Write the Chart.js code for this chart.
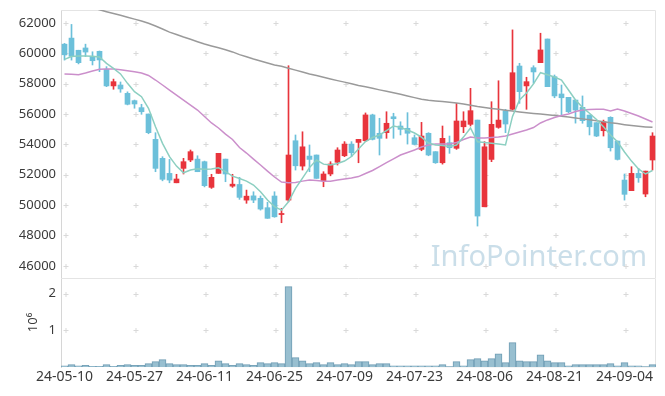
<!DOCTYPE html>
<html><head><meta charset="utf-8">
<script src="https://cdn.jsdelivr.net/npm/chart.js@4/dist/chart.umd.min.js"></script>
<style>
html,body{margin:0;padding:0;background:#fff;}
#wrap{position:relative;width:665px;height:396px;}
canvas{position:absolute;left:0;}
#c1{top:0;}
#c2{top:278px;}
</style></head>
<body>
<div id="wrap">
<canvas id="c1" width="665" height="278"></canvas>
<canvas id="c2" width="665" height="118"></canvas>
</div>
<script>
const dates = ['24-05-10','24-05-13','24-05-14','24-05-16','24-05-17','24-05-20','24-05-21','24-05-22','24-05-23','24-05-24',
'24-05-27','24-05-28','24-05-29','24-05-30','24-05-31','24-06-03','24-06-04','24-06-05','24-06-07','24-06-10',
'24-06-11','24-06-12','24-06-13','24-06-14','24-06-17','24-06-18','24-06-19','24-06-20','24-06-21','24-06-24',
'24-06-25','24-06-26','24-06-27','24-06-28','24-07-01','24-07-02','24-07-03','24-07-04','24-07-05','24-07-08',
'24-07-09','24-07-10','24-07-11','24-07-12','24-07-15','24-07-16','24-07-17','24-07-18','24-07-19','24-07-22',
'24-07-23','24-07-24','24-07-25','24-07-26','24-07-29','24-07-30','24-07-31','24-08-01','24-08-02','24-08-05',
'24-08-06','24-08-07','24-08-08','24-08-09','24-08-12','24-08-13','24-08-14','24-08-16','24-08-19','24-08-20',
'24-08-21','24-08-22','24-08-23','24-08-26','24-08-27','24-08-28','24-08-29','24-08-30','24-09-02','24-09-03',
'24-09-04','24-09-05','24-09-06','24-09-09','24-09-10'];

const openP = [60600,61000,60200,60350,59780,60130,58950,57850,57910,57360,
56880,56420,56000,54330,53080,52090,51470,52420,52970,53030,
52860,51170,52090,53030,51250,51360,50330,50610,50450,49830,
50600,49380,50330,54240,52570,53230,53300,51600,52050,52820,
53250,54020,54130,54240,55940,54730,54770,55820,55210,55060,
54440,53670,54730,53520,52790,54110,53740,55160,55320,55600,
49890,53010,55120,56220,56310,59160,57850,59050,59380,60940,
58460,57320,57100,56920,56440,55930,55430,54900,55780,54220,
51650,50950,52090,50730,52970];
const highP = [60650,61900,60200,60600,60100,60150,59120,58300,58110,57460,
56920,56640,56000,54770,53190,53010,52030,53080,53630,53250,
52900,52030,53410,53030,52030,51830,50990,50880,50600,50190,
50880,49790,59180,54620,54830,53960,53300,52200,52860,53780,
54180,54180,54330,56070,55990,55720,56150,56050,55490,56090,
54620,55450,54770,53520,55210,54550,56700,56150,57690,55600,
54180,56810,58190,56310,61540,59340,58420,59180,61320,60940,
58570,57910,57100,56920,57190,55930,55430,55600,55820,54220,
52050,52530,52420,52240,54770];
const lowP = [59550,59550,59300,59780,59230,58790,57800,57630,57430,56600,
56380,55980,54700,52200,51600,51470,51470,52050,52860,52200,
51200,51100,52090,51540,51170,50380,50120,50160,49670,49130,
49200,48840,50220,52310,52310,52200,51760,51210,51930,52640,
53190,53190,52790,54180,54290,53300,54400,54400,54620,54020,
53960,53580,53250,52750,52700,53410,53670,54770,55210,48620,
49890,52860,55060,54770,56270,56700,56310,58020,59380,57800,
57070,55930,56090,55400,55390,54620,54510,54550,53560,52970,
50330,50950,51500,50550,52310];
const closeP = [59900,59800,59380,60080,59510,59560,57850,58130,57650,56640,
56660,56150,54770,52420,51700,51650,51720,52860,53520,52200,
51280,51830,53410,52050,51380,50510,50590,50330,49740,49130,
49230,49450,53300,52590,53840,53010,51760,52050,52710,53630,
54020,53450,54330,55940,54330,54400,55390,55690,54990,54730,
54000,54550,53300,52790,54400,53780,55540,55540,56220,49280,
53840,55320,55600,55340,58720,57470,58130,58770,60220,57800,
57190,57070,56150,56260,55560,55160,54550,55490,53780,53010,
50710,52090,51800,52240,54550];

const ma5 = [59600,59790,59820,59820,59800,59760,59340,59010,58640,58020,
57470,57140,56380,55160,54070,53190,52570,52130,52310,52400,
52360,52380,52460,52200,51910,51750,51580,51320,50880,50330,
49900,49670,50220,51100,51780,52470,52970,52700,52640,52740,
52900,53200,53690,54190,54450,54620,54910,55210,55120,54950,
54750,54480,54090,53960,53920,53860,53960,54480,55080,54170,
54120,54080,54020,53960,55840,56920,57380,57980,58720,58580,
58440,58240,57580,56920,56440,56050,55640,55160,54620,54170,
53500,52900,52380,52050,52280];
const ma20 = [58640,58620,58590,58700,58830,58950,58970,58970,58910,58850,
58780,58700,58540,58240,57910,57580,57250,56920,56590,56260,
55840,55410,55080,54680,54320,53790,53430,53030,52640,52240,
51850,51520,51470,51490,51580,51650,51620,51580,51580,51650,
51720,51780,51880,52080,52280,52540,52800,53050,53300,53460,
53630,53830,53960,54020,54020,54020,54120,54320,54480,54420,
54420,54460,54480,54550,54680,54810,54950,55110,55410,55610,
55770,55900,56000,56160,56260,56290,56310,56310,56200,56330,
56200,56030,55870,55670,55470];
const ma60 = [63480,63350,63230,63110,62990,62870,62740,62620,62500,62370,
62250,62130,61980,61800,61600,61390,61240,61070,60920,60760,
60610,60480,60360,60230,60090,59910,59770,59620,59490,59360,
59230,59150,59020,58890,58770,58640,58530,58420,58310,58200,
58100,57990,57880,57790,57690,57590,57500,57400,57300,57190,
57080,56970,56900,56860,56830,56770,56720,56660,56570,56490,
56430,56370,56310,56250,56200,56140,56090,56040,56000,55950,
55910,55850,55800,55740,55680,55620,55550,55490,55420,55370,
55300,55240,55190,55150,55120];

const volume = [30000,65000,30000,45000,20000,20000,65000,20000,45000,65000,
45000,45000,90000,145000,200000,90000,65000,65000,45000,45000,
90000,45000,170000,90000,45000,90000,65000,45000,120000,90000,
120000,90000,2190000,255000,170000,90000,120000,65000,120000,65000,
90000,65000,145000,145000,65000,90000,90000,35000,35000,35000,
35000,35000,35000,35000,65000,10000,145000,35000,200000,230000,
170000,230000,360000,120000,665000,170000,145000,145000,335000,170000,
120000,120000,35000,65000,65000,65000,65000,65000,90000,35000,
120000,35000,35000,10000,65000];

const priceTicks = [46000,48000,50000,52000,54000,56000,58000,60000,62000];
const volumeTicks = [1000000,2000000];
const labelEvery = 10;

const UP = '#e8343c', DOWN = '#6cc0da';
const candleColors = closeP.map((c,i)=> c >= openP[i] ? UP : DOWN);
const bodies = openP.map((o,i)=>[Math.min(o,closeP[i]), Math.max(o,closeP[i])]);
const wicks = lowP.map((l,i)=>[l, highP[i]]);
const tickIdx = dates.map((d,i)=>i).filter(i=>i%labelEvery===0);

Chart.defaults.font.family = '"Noto Sans", sans-serif';
Chart.defaults.color = '#3a3a3a';

const framePlugin = {
  id:'frame',
  beforeDatasetsDraw(chart, args, opts){
    const {ctx, chartArea:a, scales:{x,y}} = chart;
    ctx.save();
    if (opts.watermark){
      ctx.font = '29px "Noto Sans", sans-serif';
      ctx.fillStyle = 'rgba(150,190,212,0.5)';
      ctx.textAlign = 'right';
      ctx.textBaseline = 'alphabetic';
      ctx.fillText('InfoPointer.com', 647, 266);
    }
    ctx.strokeStyle = '#d9d9d9';
    ctx.lineWidth = 1;
    for (const xi of tickIdx){
      const px = Math.round(x.getPixelForValue(xi)) + 0.5;
      for (const t of y.ticks){
        const py = Math.round(y.getPixelForValue(t.value)) + 0.5;
        ctx.beginPath();
        ctx.moveTo(px-2, py); ctx.lineTo(px+3, py);
        ctx.moveTo(px+0.5, py-2.5); ctx.lineTo(px+0.5, py+2.5);
        ctx.stroke();
      }
    }
    ctx.strokeStyle = '#e4e4e4';
    ctx.beginPath();
    ctx.moveTo(a.left, a.top+0.5); ctx.lineTo(a.right-0.5, a.top+0.5);
    ctx.lineTo(a.right-0.5, a.bottom);
    if (opts.bottomLine){ ctx.lineTo(a.left, a.bottom-0.5); }
    ctx.stroke();
    ctx.restore();
  }
};

const lineDs = (data, color) => ({type:'line', data, borderColor:color, borderWidth:1.5, pointRadius:0, tension:0, fill:false});
const noPad = s => { s.paddingTop = 0; s.paddingBottom = 0; };

new Chart(document.getElementById('c1'), {
  data: {
    labels: dates,
    datasets: [
      lineDs(ma5, '#8ccfc1'),
      lineDs(ma20, '#cb8fcb'),
      lineDs(ma60, '#9a9a9a'),
      {type:'bar', data: bodies, backgroundColor: candleColors, barThickness:5, grouped:false, borderWidth:0},
      {type:'bar', data: wicks, backgroundColor: candleColors, barThickness:1, grouped:false, borderWidth:0}
    ]
  },
  options: {
    responsive:false, animation:false, devicePixelRatio:1,
    layout:{padding:{top:10, right:9, bottom:0, left:0}},
    plugins:{legend:{display:false}, tooltip:{enabled:false}, frame:{watermark:true, bottomLine:false}},
    scales:{
      x:{display:false, offset:true},
      y:{
        min:45200, max:62850,
        afterBuildTicks: s => { s.ticks = priceTicks.map(v=>({value:v})); },
        afterFit: s => { s.width = 61; noPad(s); },
        grid:{display:false, drawTicks:false},
        border:{display:true, color:'#d6d6d6'},
        ticks:{padding:5, font:{size:13}, color:'#3a3a3a', callback: v => String(v)}
      }
    }
  },
  plugins:[framePlugin]
});

new Chart(document.getElementById('c2'), {
  data: {
    labels: dates,
    datasets: [
      {type:'bar', data: volume, backgroundColor:'#98bfd0', borderColor:'#6f9db4', borderWidth:1, barPercentage:1, categoryPercentage:1}
    ]
  },
  options: {
    responsive:false, animation:false, devicePixelRatio:1,
    layout:{padding:{top:0, right:9, bottom:0, left:0}},
    plugins:{legend:{display:false}, tooltip:{enabled:false}, frame:{watermark:false, bottomLine:true}},
    scales:{
      x:{
        offset:true,
        afterBuildTicks: s => { s.ticks = tickIdx.map(v=>({value:v})); },
        afterFit: s => { s.height = 29; s.paddingLeft = 0; s.paddingRight = 0; },
        grid:{display:false, drawTicks:false},
        border:{display:false},
        ticks:{autoSkip:false, maxRotation:0, minRotation:0, padding:2, font:{size:14}, color:'#3a3a3a',
          callback: function(v){ return this.getLabelForValue(v); }}
      },
      y:{
        min:0, max:2425000,
        afterBuildTicks: s => { s.ticks = volumeTicks.map(v=>({value:v})); },
        afterFit: s => { s.width = 61; noPad(s); },
        grid:{display:false, drawTicks:false},
        border:{display:true, color:'#d6d6d6'},
        ticks:{padding:5, font:{size:13}, color:'#3a3a3a', callback: v => String(v/1000000)},
        title:{display:true, text:'10⁶', font:{size:13}, color:'#3a3a3a', padding:{top:25, bottom:0}}
      }
    }
  },
  plugins:[framePlugin]
});
</script>
</body></html>
